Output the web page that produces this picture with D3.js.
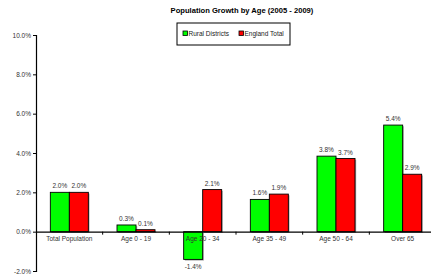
<!DOCTYPE html>
<html>
<head>
<meta charset="utf-8">
<script src="https://cdn.jsdelivr.net/npm/d3@7"></script>
<style>
  body { margin: 0; background: #fff; }
  svg { font-family: "Liberation Sans", Arial, sans-serif; display: block; }
</style>
</head>
<body>
<div id="viz"></div>
<script>
// categories and the two series (percent growth 2005-2009)
const categories = ['Total Population', 'Age 0 - 19', 'Age 20 - 34', 'Age 35 - 49', 'Age 50 - 64', 'Over 65'];
const seriesNames = ['Rural Districts', 'England Total'];
const rural = [2.0, 0.34, -1.41, 1.64, 3.84, 5.42];
const england = [2.0, 0.1, 2.14, 1.91, 3.72, 2.92];
const yTicks = [-2, 0, 2, 4, 6, 8, 10];
const colors = ['#00ff00', '#ff0000'];

const width = 431, height = 276;
const plotLeft = 36, plotRight = 436, plotTop = 35, plotBottom = 271;

const svg = d3.select('#viz')
  .append('svg')
  .attr('width', width)
  .attr('height', height);

// title
svg.append('text')
  .attr('x', 242)
  .attr('y', 13)
  .attr('text-anchor', 'middle')
  .attr('font-size', 7.6)
  .attr('font-weight', 'bold')
  .text('Population Growth by Age (2005 - 2009)');

// scales
const x = d3.scaleBand()
  .domain(categories)
  .range([plotLeft, plotRight]);

const x1 = d3.scaleBand()
  .domain(seriesNames)
  .range([0, 38]);

const y = d3.scaleLinear()
  .domain([-2, 10])
  .range([plotBottom, plotTop]);

// y axis
const yAxis = d3.axisLeft(y)
  .tickValues(yTicks)
  .tickSize(3)
  .tickPadding(2)
  .tickFormat(d => d.toFixed(1) + '%');

const gy = svg.append('g')
  .attr('transform', `translate(${plotLeft},0)`)
  .call(yAxis);
gy.select('.domain').attr('stroke', '#000').attr('stroke-width', 1.2);
gy.selectAll('text').attr('font-size', 6.5).attr('fill', '#333');

// bars
const data = categories.map((c, i) => ({ cat: c, vals: [rural[i], england[i]] }));

const groups = svg.selectAll('g.grp')
  .data(data)
  .enter()
  .append('g')
  .attr('class', 'grp')
  .attr('transform', d => `translate(${x(d.cat) + (x.bandwidth() - 38) / 2},0)`);

const bars = groups.selectAll('g.bar')
  .data(d => d.vals.map((v, j) => ({ v, name: seriesNames[j], j })))
  .enter()
  .append('g')
  .attr('class', 'bar');

// light shadow behind each bar
bars.append('rect')
  .attr('x', d => x1(d.name) + 1.2)
  .attr('y', d => Math.min(y(d.v), y(0)) + 1.2)
  .attr('width', x1.bandwidth())
  .attr('height', d => Math.abs(y(d.v) - y(0)))
  .attr('fill', '#aaa');

bars.append('rect')
  .attr('x', d => x1(d.name))
  .attr('y', d => Math.min(y(d.v), y(0)))
  .attr('width', x1.bandwidth())
  .attr('height', d => Math.abs(y(d.v) - y(0)))
  .attr('fill', d => colors[d.j])
  .attr('stroke', '#000')
  .attr('stroke-width', 0.9);

// value labels
bars.append('text')
  .attr('x', d => x1(d.name) + x1.bandwidth() / 2)
  .attr('y', d => d.v >= 0 ? y(d.v) - 4 : y(d.v) + 10)
  .attr('text-anchor', 'middle')
  .attr('font-size', 6.5)
  .attr('fill', '#333')
  .text(d => d.v.toFixed(1) + '%');

// x axis at zero line
const xAxis = d3.axisBottom(x).tickSize(0).tickPadding(5);
const gx = svg.append('g')
  .attr('transform', `translate(0,${y(0)})`)
  .call(xAxis);
gx.select('.domain').attr('stroke', '#000').attr('stroke-width', 1.2);
gx.selectAll('text').attr('font-size', 6.5).attr('fill', '#333');

// tick marks at category boundaries
gx.selectAll('line.sep')
  .data(categories.slice(1))
  .enter()
  .append('line')
  .attr('class', 'sep')
  .attr('x1', d => x(d))
  .attr('x2', d => x(d))
  .attr('y1', 0)
  .attr('y2', 3)
  .attr('stroke', '#000');

// legend
const legend = svg.append('g').attr('transform', 'translate(177,23)');
legend.append('rect')
  .attr('width', 113)
  .attr('height', 22)
  .attr('fill', '#fff')
  .attr('stroke', '#000')
  .attr('stroke-width', 1);

const li = legend.selectAll('g.item')
  .data(seriesNames)
  .enter()
  .append('g')
  .attr('class', 'item')
  .attr('transform', (d, i) => `translate(${6 + i * 56},8)`);

li.append('rect')
  .attr('width', 4.5)
  .attr('height', 4.5)
  .attr('fill', (d, i) => colors[i])
  .attr('stroke', '#000')
  .attr('stroke-width', 0.8);

li.append('text')
  .attr('x', 5.5)
  .attr('y', 5)
  .attr('font-size', 6.5)
  .attr('fill', '#222')
  .text(d => d);
</script>
</body>
</html>
